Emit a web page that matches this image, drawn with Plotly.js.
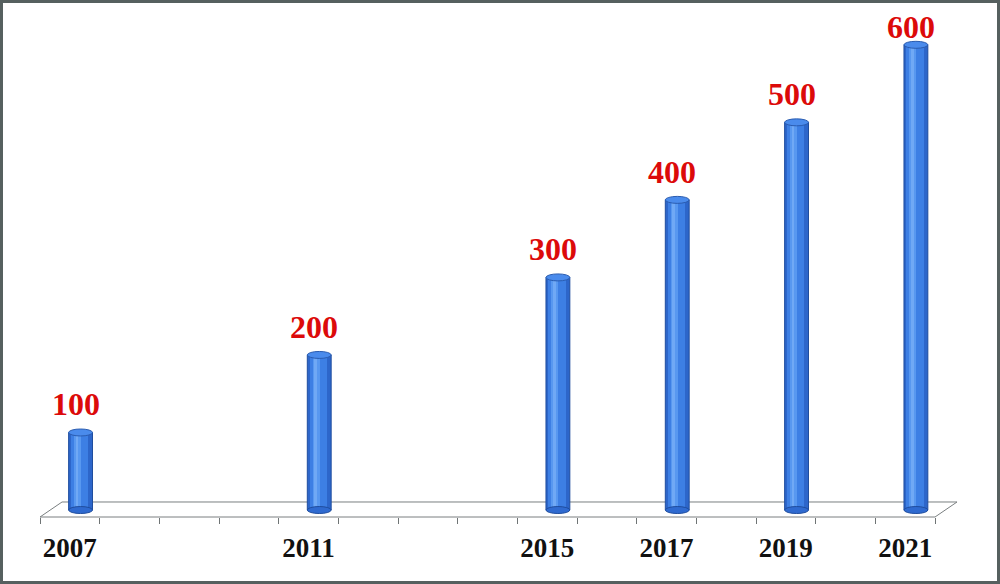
<!DOCTYPE html>
<html>
<head>
<meta charset="utf-8">
<script src="https://cdn.plot.ly/plotly-3.0.1.min.js"></script>
<style>
  html, body { margin: 0; padding: 0; background: #ffffff; }
  #wrap { position: absolute; left: 0; top: 0; width: 1000px; height: 584px; box-sizing: border-box; border: 3px solid #56605f; background: #fff; }
  #chart { position: absolute; left: -3px; top: -3px; width: 1000px; height: 584px; }
</style>
</head>
<body>
<div id="wrap"><div id="chart"></div></div>
<script>
// ---- data ----
const years = [2007, 2011, 2015, 2017, 2019, 2021];
const values = [100, 200, 300, 400, 500, 600];
const tickLabels = ["2007", "2011", "2015", "2017", "2019", "2021"];
const yearMin = 2007;
const yearMax = 2021;

// ---- style ----
const barW = 0.40;      // bar width in years
const barOff = -0.02;   // left edge relative to year (3D depth shift)
const capH = 4.5;       // half-height of cylinder caps in value units
const labelColor = '#dc0a0a';
const labelShift = [8, 8, 8, 8, 8, -2];

function layer(width, off, color, lineColor) {
  return {
    type: 'bar', x: years, y: values,
    width: years.map(() => width),
    offset: years.map(() => off),
    marker: { color: color, line: { color: lineColor || color, width: lineColor ? 1 : 0 } },
    hoverinfo: 'skip', showlegend: false
  };
}

const traces = [
  layer(barW, barOff, '#2d66ca', '#1f4d9e'),
  layer(barW * 0.72, barOff + barW * 0.10, '#3d7fe4'),
  layer(barW * 0.30, barOff + barW * 0.22, '#5898f0'),
  layer(barW * 0.10, barOff + barW * 0.30, '#70a9f5')
];

const shapes = [];
// floor (3D base)
shapes.push({ type: 'path', xref: 'paper', yref: 'paper', layer: 'below',
  path: 'M 0,0 L 0.0246,0.0302 L 1.0246,0.0302 L 1,0 Z',
  line: { color: '#7a7f80', width: 1 }, fillcolor: '#ffffff' });
// bottom caps and top caps of cylinders
years.forEach((yr, i) => {
  shapes.push({ type: 'circle', xref: 'x', yref: 'y', layer: 'above',
    x0: yr + barOff, x1: yr + barOff + barW, y0: -capH, y1: capH,
    fillcolor: '#2f6ad0', line: { color: '#1f4d9e', width: 1 } });
  shapes.push({ type: 'circle', xref: 'x', yref: 'y', layer: 'above',
    x0: yr + barOff, x1: yr + barOff + barW, y0: values[i] - capH, y1: values[i] + capH,
    fillcolor: '#4a8bec', line: { color: '#2a5cb0', width: 1 } });
});

const annotations = years.map((yr, i) => ({
  x: yr + 0.10, y: values[i], xref: 'x', yref: 'y',
  text: String(values[i]), showarrow: false, yanchor: 'bottom', yshift: labelShift[i],
  font: { family: 'Liberation Serif, Times New Roman, serif', size: 32, color: labelColor, weight: 'bold' }
}));

const layout = {
  width: 1000, height: 584,
  margin: { l: 40, r: 65, t: 20, b: 67 },
  paper_bgcolor: 'rgba(0,0,0,0)', plot_bgcolor: 'rgba(0,0,0,0)',
  barmode: 'overlay', bargap: 0,
  xaxis: {
    range: [yearMin - 0.5, yearMax + 0.5],
    tickmode: 'array', tickvals: years, ticktext: tickLabels,
    ticks: '', showgrid: false, zeroline: false, showline: false,
    ticklabelstandoff: 12,
    tickfont: { family: 'Liberation Serif, Times New Roman, serif', size: 27, color: '#111', weight: 'bold' },
    minor: { tickmode: 'linear', tick0: yearMin - 0.5, dtick: 1, ticks: 'outside', ticklen: 6, tickcolor: '#6f7475', tickwidth: 1, showgrid: false }
  },
  yaxis: { range: [-9, 632], visible: false, showgrid: false, zeroline: false },
  shapes: shapes,
  annotations: annotations,
  showlegend: false
};

Plotly.newPlot('chart', traces, layout, { displayModeBar: false, staticPlot: true });
</script>
</body>
</html>
